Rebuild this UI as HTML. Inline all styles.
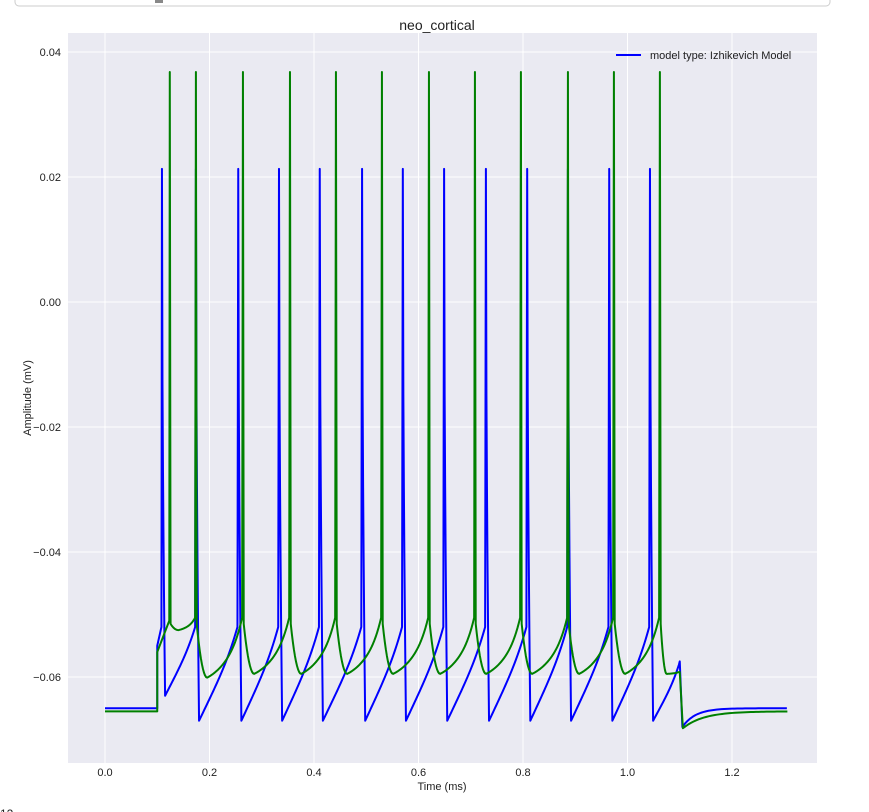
<!DOCTYPE html>
<html><head><meta charset="utf-8"><style>
body{margin:0;background:#fff;width:869px;height:812px;overflow:hidden;font-family:"Liberation Sans",sans-serif;}
svg{display:block}
</style></head><body>
<svg width="869" height="812">
<rect x="15" y="-10" width="815" height="16" rx="4" fill="#fff" stroke="#ccc"/>
<rect x="155" y="0" width="8" height="3" fill="#888"/>
<rect x="68" y="33" width="749" height="730" fill="#eaeaf2"/>
<text x="437" y="30" text-anchor="middle" font-size="14" fill="#222">neo_cortical</text>
<g id="grid"></g>
<g id="ticks"></g>
<clipPath id="cp"><rect x="68" y="33" width="749" height="730"/></clipPath>
<g clip-path="url(#cp)" id="lines"></g>
<g>
<line x1="616" y1="55" x2="641" y2="55" stroke="#0000ff" stroke-width="2"/>
<text x="650" y="59" font-size="11" fill="#222">model type: Izhikevich Model</text>
</g>
<text x="442" y="790" text-anchor="middle" font-size="11" fill="#222">Time (ms)</text>
<text transform="translate(31,398) rotate(-90)" text-anchor="middle" font-size="11" fill="#222">Amplitude (mV)</text>
<text x="0" y="818" font-size="12" fill="#222">12</text>
</svg>
<script>
const xTicks=[0,0.2,0.4,0.6,0.8,1.0,1.2];
const xTickLabels=["0.0","0.2","0.4","0.6","0.8","1.0","1.2"];
const yTicks=[0.04,0.02,0,-0.02,-0.04,-0.06];
const yTickLabels=["0.04","0.02","0.00","\u22120.02","\u22120.04","\u22120.06"];
const blueSpikes=[0.109,0.174,0.255,0.333,0.411,0.492,0.570,0.649,0.729,0.808,0.886,0.965,1.043];
const blueTroughs=[-0.063,-0.067,-0.067,-0.067,-0.067,-0.067,-0.067,-0.067,-0.067,-0.067,-0.067,-0.067,-0.067];
const greenSpikes=[0.124,0.174,0.264,0.354,0.442,0.530,0.620,0.708,0.796,0.886,0.974,1.062];
const greenMins=[-0.0525,-0.0601,-0.0595,-0.0595,-0.0595,-0.0595,-0.0595,-0.0595,-0.0595,-0.0595,-0.0595,-0.0595];
const blueBase=-0.065, greenBase=-0.0655, bluePeak=0.0213, greenPeak=0.0368;
const X=t=>105+t*522.5, Y=v=>302-v*6250;
const NS="http://www.w3.org/2000/svg";
const grid=document.getElementById('grid'), ticks=document.getElementById('ticks'), lines=document.getElementById('lines');
xTicks.forEach((t,i)=>{
 const l=document.createElementNS(NS,'line');
 
 
 l.setAttribute('x1',X(t));l.setAttribute('x2',X(t));l.setAttribute('y1',33);l.setAttribute('y2',763);
 l.setAttribute('stroke','#fff');l.setAttribute('stroke-width','1');grid.appendChild(l);
 const tx=document.createElementNS(NS,'text');
 
 
 tx.setAttribute('x',X(t));tx.setAttribute('y',776);tx.setAttribute('text-anchor','middle');tx.setAttribute('font-size','11');tx.setAttribute('fill','#222');
 tx.textContent=xTickLabels[i];ticks.appendChild(tx);
});
yTicks.forEach((v,i)=>{
 const l=document.createElementNS(NS,'line');
 
 
 l.setAttribute('x1',68);l.setAttribute('x2',817);l.setAttribute('y1',Y(v));l.setAttribute('y2',Y(v));
 l.setAttribute('stroke','#fff');l.setAttribute('stroke-width','1');grid.appendChild(l);
 const tx=document.createElementNS(NS,'text');
 
 
 tx.setAttribute('x',61);tx.setAttribute('y',Y(v)+4);tx.setAttribute('text-anchor','end');tx.setAttribute('font-size','11');tx.setAttribute('fill','#222');
 tx.textContent=yTickLabels[i];ticks.appendChild(tx);
});
function buildBlue(){
 const p=[[0,blueBase],[0.1,blueBase],[0.1,-0.055],[blueSpikes[0]-0.001,-0.052]];
 for(let i=0;i<blueSpikes.length;i++){
  const s=blueSpikes[i], tr=blueTroughs[i];
  const next=i<blueSpikes.length-1?blueSpikes[i+1]:1.1;
  const pre=i<blueSpikes.length-1?-0.052:-0.058;
  p.push([s,bluePeak]);
  for(let k=1;k<=6;k++){const u=k/6;p.push([s+0.006*u,bluePeak+(tr-bluePeak)*Math.pow(u,0.5)]);}
  const a=s+0.006,b=next-0.0015;
  for(let k=1;k<=30;k++){const u=k/30;p.push([a+(b-a)*u,tr+(pre-tr)*(0.85*u+0.15*Math.pow(u,4))]);}
 }
 p.push([1.1,-0.0575],[1.105,-0.068]);
 for(let k=1;k<=40;k++){const t=1.105+k*0.005;p.push([t,blueBase+(-0.068-blueBase)*Math.exp(-(t-1.105)/0.025)]);}
 return p;
}
function buildGreen(){
 const p=[[0,greenBase],[0.1,greenBase],[0.1,-0.056],[greenSpikes[0]-0.001,-0.051]];
 for(let i=0;i<greenSpikes.length;i++){
  const s=greenSpikes[i], m=greenMins[i];
  const next=i<greenSpikes.length-1?greenSpikes[i+1]:1.1;
  const pre=i<greenSpikes.length-1?-0.0505:-0.0592;
  const r=-0.0515;
  p.push([s,greenPeak],[s+0.0015,r]);
  const dm=Math.min(0.02,(next-s)*0.3);
  for(let k=1;k<=10;k++){const u=k/10;p.push([s+0.0015+dm*u,m+(r-m)*Math.pow(1-u,2)]);}
  const a=s+0.0015+dm,b=next-0.0015;
  for(let k=1;k<=25;k++){const u=k/25;p.push([a+(b-a)*u,m+(pre-m)*(0.3*u+0.4*u*u+0.3*Math.pow(u,5))]);}
 }
 p.push([1.1,-0.0592],[1.106,-0.0682]);
 for(let k=1;k<=40;k++){const t=1.106+k*0.005;p.push([t,greenBase+(-0.0682-greenBase)*Math.exp(-(t-1.106)/0.04)]);}
 return p;
}
function draw(pts,color,name){
 const pl=document.createElementNS(NS,'polyline');
 
 
 pl.setAttribute('points',pts.map(q=>X(q[0]).toFixed(2)+','+Y(q[1]).toFixed(2)).join(' '));
 pl.setAttribute('fill','none');pl.setAttribute('stroke',color);pl.setAttribute('stroke-width','2');pl.setAttribute('stroke-linejoin','round');
 lines.appendChild(pl);
}
draw(buildBlue(),'#0000ff','blue-series-line');
draw(buildGreen(),'#008000','green-series-line');
</script>
</body></html>
